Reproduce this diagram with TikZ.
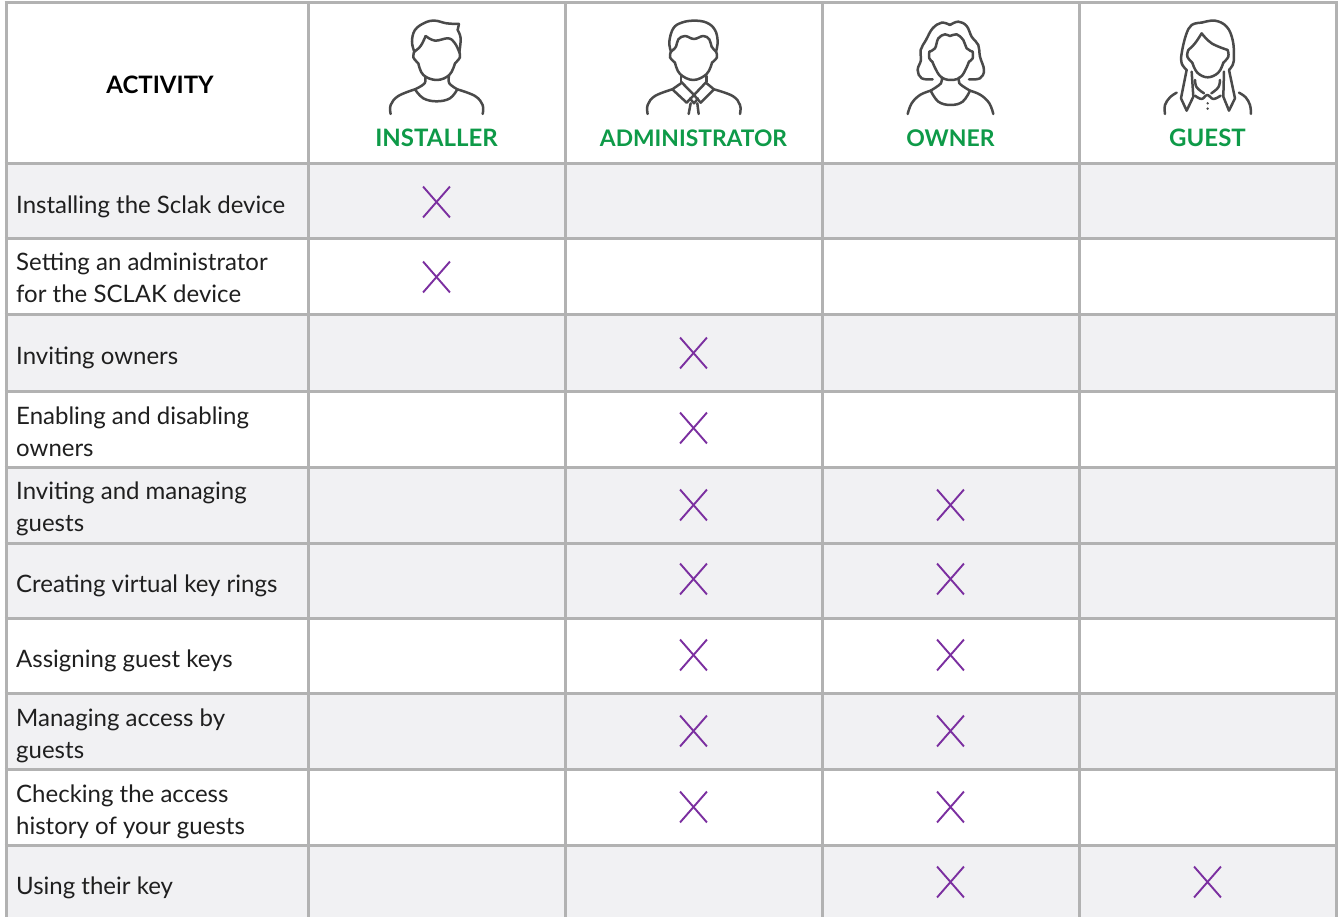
\documentclass[tikz,border=0pt]{standalone}
\usepackage{fontspec}
\setmainfont{Lato}
\usetikzlibrary{shapes.misc}
\definecolor{gridc}{HTML}{B2B2B2}
\definecolor{band}{HTML}{F1F1F3}
\definecolor{lab}{HTML}{1F1F1F}
\definecolor{grn}{HTML}{0E9A48}
\definecolor{purp}{HTML}{7B2FA0}
\definecolor{ico}{HTML}{4A4A4A}
\tikzset{
 gridline/.style={draw=gridc,line width=3pt},
 bandrow/.style={fill=band,draw=none},
 activity/.style={anchor=base west,align=left,text=lab,font=\fontsize{24}{32}\selectfont,inner sep=0pt},
 role/.style={text=grn,font=\fontsize{24}{28}\selectfont\bfseries,inner sep=0pt,anchor=base},
 headtxt/.style={text=black,font=\fontsize{24}{28}\selectfont\bfseries,inner sep=0pt},
 crossmark/.style={cross out,draw=purp,line width=1.9pt,minimum width=25pt,minimum height=29pt,inner sep=0pt},
 icon/.style={draw=ico,line width=2.5pt,line cap=round,line join=round},
}
\newcommand{\sm}[1]{plot[smooth,tension=0.65] coordinates {#1}}
\begin{document}
\begin{tikzpicture}[x=1pt,y=-1pt]
\useasboundingbox (0,0) rectangle (1339,917);
\fill[white] (0,0) rectangle (1339,917);
% bands
\foreach \a/\b in {164/239,315/391,467/543,543/618,693/769,845/917}
  \path[bandrow] (6,\a) rectangle (1336,\b);
% grid
\foreach \yy in {3,164,239,315,391,467,543,618,693,769,845}
  \draw[gridline] (4.5,\yy) -- (1337.5,\yy);
\foreach \xx in {6,308,565,822,1079,1336}
  \draw[gridline] (\xx,1.5) -- (\xx,917);
% header
\node[headtxt] (hact) at (160,85) {ACTIVITY};
\node[role] (hins) at (436.5,147) {INSTALLER};
\node[role,font=\fontsize{22.8}{28}\selectfont\bfseries] (hadm) at (693.5,147) {ADMINISTRATOR};
\node[role,font=\fontsize{23}{28}\selectfont\bfseries] (hown) at (950.5,147) {OWNER};
\node[role] (hgue) at (1207.5,147) {GUEST};
% activities
\node[activity] (a1) at (16,214) {Installing the Sclak device};
\node[activity] (a2) at (16,303) {Setting an administrator\\for the SCLAK device};
\node[activity] (a3) at (16,365) {Inviting owners};
\node[activity] (a4) at (16,456) {Enabling and disabling\\owners};
\node[activity] (a5) at (16,531) {Inviting and managing\\guests};
\node[activity] (a6) at (16,592) {Creating virtual key rings};
\node[activity] (a7) at (16,667) {Assigning guest keys};
\node[activity] (a8) at (16,758) {Managing access by\\guests};
\node[activity] (a9) at (16,834) {Checking the access\\history of your guests};
\node[activity] (a10) at (16,894) {Using their key};
% crosses
\foreach \nm/\xx/\yy in {x1/436.5/202,x2/436.5/277,x3/693.5/353,x4/693.5/428,x5/693.5/505,x6/693.5/579,x7/693.5/655,x8/693.5/731,x9/693.5/807,y5/950.5/505,y6/950.5/579,y7/950.5/655,y8/950.5/731,y9/950.5/807,y10/950.5/882,z10/1207.5/882}
  \node[crossmark] (\nm) at (\xx,\yy) {};
% installer icon
\begin{scope}[shift={(300,0)},x=0.3333pt,y=-0.3333pt,icon]
\draw \sm{(343,155) (336,125) (345,90) (375,68) (405,62) (440,70) (477,72)};
\draw (477,72) -- (473,90);
\draw \sm{(473,90) (482,115) (478,157)};
\draw \sm{(343,155) (362,138) (377,108)};
\draw \sm{(377,108) (405,122) (445,115) (465,130) (478,157)};
\draw \sm{(343,155) (340,172) (355,190)};
\draw \sm{(478,157) (480,172) (465,190)};
\draw \sm{(355,190) (370,225) (410,240) (448,225) (465,190)};
\draw \sm{(375,228) (374,250) (345,268)};
\draw \sm{(447,228) (448,250) (472,268)};
\draw \sm{(272,342) (272,315) (295,288) (345,268)};
\draw \sm{(548,342) (548,315) (525,288) (472,268)};
\draw \sm{(345,268) (370,295) (410,304) (450,295) (472,268)};
\end{scope}
% administrator icon
\begin{scope}[shift={(570,0)},x=0.3333pt,y=-0.3333pt,icon]
\draw \sm{(303,155) (298,125) (310,85) (335,68) (372,62) (410,68) (435,90) (443,125) (438,155)};
\draw \sm{(303,155) (318,140) (325,118) (345,108) (372,117) (400,108) (418,118) (425,140) (438,155)};
\draw \sm{(303,155) (300,172) (315,188)};
\draw \sm{(438,155) (441,172) (426,188)};
\draw \sm{(315,188) (330,222) (370,240) (410,222) (426,188)};
\draw (333,228) -- (333,245);
\draw (410,228) -- (410,245);
\draw \sm{(233,342) (233,315) (255,288) (307,268)};
\draw \sm{(510,342) (510,315) (488,288) (432,268)};
\draw (333,250) -- (307,268) -- (350,308) -- (372,285) -- (392,308) -- (432,268) -- (410,250);
\draw (333,245) -- (372,285) -- (410,245);
\draw (360,296) -- (372,310) -- (384,296);
\draw (362,310) -- (356,342);
\draw (382,310) -- (386,342);
\end{scope}
% owner icon
\begin{scope}[shift={(830,0)},x=0.3333pt,y=-0.3333pt,icon]
\draw \sm{(360,75) (335,68) (308,85) (288,120) (272,150) (273,180) (263,210) (275,235) (308,238)};
\draw \sm{(360,75) (385,65) (410,78) (425,110) (445,135) (450,170) (462,210) (450,235) (417,238)};
\draw \sm{(298,155) (315,145) (325,115) (345,103) (360,108) (380,103) (400,120) (410,145) (428,155)};
\draw \sm{(298,155) (298,175) (307,185)};
\draw \sm{(428,155) (428,175) (417,185)};
\draw \sm{(307,185) (330,228) (363,240) (395,228) (417,185)};
\draw \sm{(335,232) (333,250) (302,272)};
\draw \sm{(388,232) (388,250) (420,272)};
\draw \sm{(233,342) (245,310) (270,285) (302,272)};
\draw \sm{(490,342) (478,310) (452,285) (420,272)};
\draw \sm{(302,272) (325,305) (362,315) (398,305) (420,272)};
\end{scope}
% guest icon
\begin{scope}[shift={(1080,0)},x=0.3333pt,y=-0.3333pt,icon]
\draw \sm{(365,68) (335,75) (318,105) (305,160) (305,190) (320,210)};
\draw \sm{(365,68) (405,62) (440,80) (458,120) (462,170) (458,195) (447,210)};
\draw \sm{(325,150) (345,130) (365,100)};
\draw \sm{(365,100) (395,130) (443,150)};
\draw \sm{(325,150) (322,170) (337,188)};
\draw \sm{(443,150) (445,170) (430,188)};
\draw \sm{(337,188) (352,218) (383,232) (415,218) (430,188)};
\draw (320,210) -- (303,295) -- (320,332) -- (340,290) -- (335,215);
\draw (447,210) -- (465,295) -- (447,332) -- (430,290) -- (432,215);
\draw \sm{(345,240) (350,262) (372,280)};
\draw \sm{(420,240) (415,262) (394,280)};
\draw \sm{(345,287) (365,297) (382,285) (400,297) (422,287)};
\draw \sm{(255,342) (255,315) (270,292) (290,278)};
\draw \sm{(513,342) (510,315) (497,292) (477,278)};
\fill[ico] (383,310) circle (4) (383,326) circle (4);
\end{scope}
\end{tikzpicture}
\end{document}
